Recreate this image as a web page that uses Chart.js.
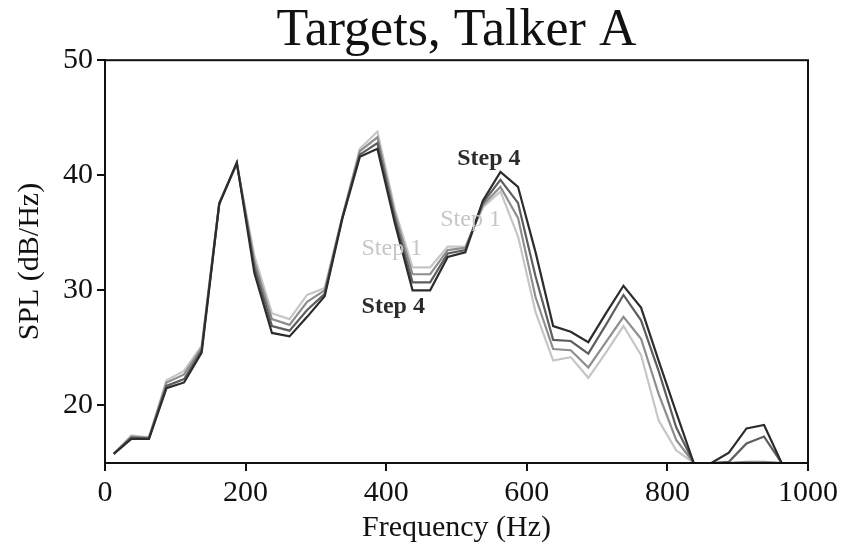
<!DOCTYPE html>
<html>
<head>
<meta charset="utf-8">
<title>Targets, Talker A</title>
<script src="https://cdn.jsdelivr.net/npm/chart.js@4.4.1/dist/chart.umd.min.js"></script>
<style>
  html, body { margin: 0; padding: 0; background: #fff; }
  #wrap { width: 843px; height: 549px; position: relative; }
</style>
</head>
<body>
<div id="wrap"><canvas id="spectrumChart"></canvas></div>
<script>
// ========== DATA ==========
// frequency bins (Hz), 25 Hz wide, centred
const freqs = [12.5, 37.5, 62.5, 87.5, 112.5, 137.5, 162.5, 187.5, 212.5, 237.5,
               262.5, 287.5, 312.5, 337.5, 362.5, 387.5, 412.5, 437.5, 462.5, 487.5,
               512.5, 537.5, 562.5, 587.5, 612.5, 637.5, 662.5, 687.5, 712.5, 737.5,
               762.5, 787.5, 812.5, 837.5, 862.5, 887.5, 912.5, 937.5, 962.5, 987.5];

// SPL (dB/Hz) per step
const step1 = [15.8, 17.4, 17.2, 22.2, 23.0, 25.2, 37.6, 41.0, 33.0, 28.0,
               27.5, 29.6, 30.2, 36.4, 42.3, 43.8, 37.0, 32.0, 32.0, 33.8,
               33.8, 37.2, 38.6, 34.7, 28.1, 23.9, 24.2, 22.4, 24.6, 26.9,
               24.4, 18.7, 16.1, 15.0, 15.0, 15.0, 15.05, 15.05, 15.0, 15.0];
const step2 = [15.8, 17.3, 17.2, 22.0, 22.7, 25.0, 37.6, 41.0, 32.5, 27.5,
               27.0, 29.0, 30.0, 36.3, 42.1, 43.3, 36.6, 31.4, 31.4, 33.5,
               33.7, 37.4, 39.0, 36.3, 29.4, 24.9, 24.8, 23.3, 25.5, 27.7,
               25.8, 21.0, 17.0, 15.0, 15.0, 15.0, 15.1, 15.1, 15.0, 15.0];
const step3 = [15.8, 17.2, 17.1, 21.7, 22.3, 24.8, 37.5, 41.1, 32.0, 26.9,
               26.5, 28.3, 29.7, 36.3, 41.8, 42.8, 36.2, 30.7, 30.7, 33.2,
               33.5, 37.6, 39.6, 37.6, 31.2, 25.7, 25.6, 24.5, 27.0, 29.6,
               27.4, 23.0, 18.1, 15.0, 15.0, 15.1, 16.7, 17.3, 15.0, 15.0];
const step4 = [15.8, 17.1, 17.1, 21.5, 22.0, 24.6, 37.5, 41.1, 31.5, 26.3,
               26.0, 27.7, 29.5, 36.2, 41.6, 42.3, 35.8, 30.0, 30.0, 32.9,
               33.3, 37.8, 40.3, 39.0, 33.3, 26.9, 26.4, 25.5, 28.0, 30.4,
               28.5, 23.9, 19.4, 15.0, 15.0, 15.9, 18.0, 18.3, 15.0, 15.0];

// tick labels
const xTicks = [0, 200, 400, 600, 800, 1000];
const yTicks = [20, 30, 40, 50];

// in-plot labels, in data units [freq, dB]
const labelText = ['Step 4', 'Step 1', 'Step 1', 'Step 4'];
const labelFreq = [546, 520, 408, 410];
const labelDb   = [41.4, 36.1, 33.6, 28.6];
const labelBold = [true, false, false, true];

const SERIF = '"Liberation Serif", "DejaVu Serif", serif';
const stepColors = ['#c6c6c6', '#8e8e8e', '#5e5e5e', '#2c2c2c'];
const labelColors = ['#2c2c2c', '#c6c6c6', '#c6c6c6', '#2c2c2c'];

function toPoints(vals) {
    return freqs.map((f, i) => ({ x: f, y: vals[i] }));
}

// frame round the plot area + step labels
const framePlugin = {
    id: 'frame',
    afterDatasetsDraw(chart) {
        const { ctx, chartArea: a, scales } = chart;
        ctx.save();
        ctx.strokeStyle = '#111';
        ctx.lineWidth = 2;
        ctx.strokeRect(a.left, a.top, a.right - a.left, a.bottom - a.top);

        ctx.textAlign = 'center';
        ctx.textBaseline = 'middle';
        labelText.forEach((t, i) => {
            ctx.font = (labelBold[i] ? 'bold ' : '') + '24px ' + SERIF;
            ctx.fillStyle = labelColors[i];
            ctx.fillText(t, scales.x.getPixelForValue(labelFreq[i]), scales.y.getPixelForValue(labelDb[i]));
        });
        ctx.restore();
    }
};

const series = [step1, step2, step3, step4];
const datasets = series.map((vals, i) => ({
    label: 'Step ' + (i + 1),
    data: toPoints(vals),
    borderColor: stepColors[i],
    borderWidth: 2.2,
    pointRadius: 0,
    tension: 0,
    fill: false,
    order: 4 - i   // darkest on top
}));

new Chart(document.getElementById('spectrumChart'), {
    type: 'line',
    data: { datasets: datasets },
    plugins: [framePlugin],
    options: {
        responsive: true,
        maintainAspectRatio: false,
        animation: false,
        layout: { padding: { left: 0, right: 35, top: 0, bottom: 0 } },
        plugins: {
            legend: { display: false },
            tooltip: { enabled: false },
            title: {
                display: true,
                fullSize: false,
                text: 'Targets, Talker A',
                color: '#111',
                font: { family: SERIF, size: 52, weight: 'normal', lineHeight: 1.1 },
                padding: { top: 3, bottom: 0 }
            }
        },
        scales: {
            x: {
                type: 'linear',
                min: 0,
                max: 1000,
                border: { color: '#111', width: 2 },
                grid: { drawOnChartArea: false, drawTicks: true, tickLength: 8, color: '#111', lineWidth: 2 },
                afterBuildTicks: (s) => { s.ticks = xTicks.map(v => ({ value: v })); },
                ticks: {
                    color: '#111', padding: 4, maxRotation: 0,
                    font: { family: SERIF, size: 30 },
                    callback: (v) => String(v)
                },
                title: {
                    display: true,
                    text: 'Frequency (Hz)',
                    color: '#111',
                    font: { family: SERIF, size: 30 },
                    padding: { top: 0, bottom: 3 }
                },
                afterFit: (s) => { s.height = 86; }
            },
            y: {
                type: 'linear',
                min: 15,
                max: 50,
                border: { color: '#111', width: 2 },
                grid: { drawOnChartArea: false, drawTicks: true, tickLength: 8, color: '#111', lineWidth: 2 },
                afterBuildTicks: (s) => { s.ticks = yTicks.map(v => ({ value: v })); },
                ticks: { color: '#111', padding: 4, font: { family: SERIF, size: 30 } },
                title: {
                    display: true,
                    text: 'SPL (dB/Hz)',
                    color: '#111',
                    font: { family: SERIF, size: 30 },
                    padding: { top: 12, bottom: 0 }
                },
                afterFit: (s) => { s.width = 105; }
            }
        }
    }
});
</script>
</body>
</html>
